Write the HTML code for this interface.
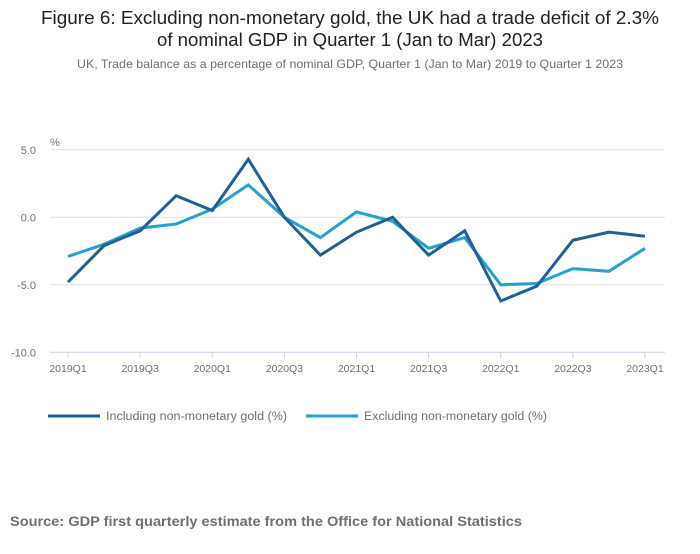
<!DOCTYPE html>
<html><head><meta charset="utf-8"><style>
body{margin:0;background:#fff;width:700px;height:549px;overflow:hidden;font-family:"Liberation Sans",sans-serif}
</style></head><body>
<svg width="700" height="549" font-family="Liberation Sans, sans-serif">
<text x="350" y="24" text-anchor="middle" font-size="18.5" fill="#222" textLength="618" lengthAdjust="spacingAndGlyphs">Figure 6: Excluding non-monetary gold, the UK had a trade deficit of 2.3%</text>
<text x="350" y="46" text-anchor="middle" font-size="18.5" fill="#222" textLength="386" lengthAdjust="spacingAndGlyphs">of nominal GDP in Quarter 1 (Jan to Mar) 2023</text>
<text x="350" y="68" text-anchor="middle" font-size="12" fill="#707070" textLength="546" lengthAdjust="spacingAndGlyphs">UK, Trade balance as a percentage of nominal GDP, Quarter 1 (Jan to Mar) 2019 to Quarter 1 2023</text>
<text x="50" y="146" font-size="11" fill="#707070">%</text>
<g id="grid"></g><g id="xax"></g><g id="lines"></g>
<g>
<line x1="48" y1="416" x2="100" y2="416" stroke="#206095" stroke-width="3"/>
<text x="106" y="420" font-size="11.5" fill="#707070" textLength="181" lengthAdjust="spacingAndGlyphs">Including non-monetary gold (%)</text>
<line x1="306" y1="416" x2="358" y2="416" stroke="#27a0cc" stroke-width="3"/>
<text x="364" y="420" font-size="11.5" fill="#707070" textLength="183" lengthAdjust="spacingAndGlyphs">Excluding non-monetary gold (%)</text>
</g>
<text x="10" y="526" font-size="13.5" font-weight="bold" fill="#707070" textLength="512" lengthAdjust="spacingAndGlyphs">Source: GDP first quarterly estimate from the Office for National Statistics</text>
</svg>
<script>
const categories=["2019Q1","2019Q2","2019Q3","2019Q4","2020Q1","2020Q2","2020Q3","2020Q4","2021Q1","2021Q2","2021Q3","2021Q4","2022Q1","2022Q2","2022Q3","2022Q4","2023Q1"];
const including=[-4.8,-2.1,-1.0,1.6,0.5,4.3,0.0,-2.8,-1.1,0.0,-2.8,-1.0,-6.2,-5.1,-1.7,-1.1,-1.4];
const excluding=[-2.9,-2.0,-0.8,-0.5,0.6,2.4,0.0,-1.5,0.4,-0.3,-2.3,-1.5,-5.0,-4.9,-3.8,-4.0,-2.3];
const yTicks=[5,0,-5,-10];
const yTickLabels=["5.0","0.0","-5.0","-10.0"];
const NS="http://www.w3.org/2000/svg";
const x=i=>68+i*(645-68)/(categories.length-1);
const y=v=>217.3-v*(352.3-217.3)/10;
function mk(t,a,p){const e=document.createElementNS(NS,t);for(const k in a)e.setAttribute(k,a[k]);p.appendChild(e);return e;}
const grid=document.getElementById('grid');
yTicks.forEach((v,i)=>{
 const l=mk('line',{x1:50,x2:665,y1:y(v),y2:y(v),stroke:v===-10?'#c5d3e8':'#e0e0e0','stroke-width':1},grid);
 
 
 const t=mk('text',{x:36,y:y(v)+4,'text-anchor':'end','font-size':11,fill:'#707070'},grid);
 t.textContent=yTickLabels[i];
 
 
});
const xax=document.getElementById('xax');
categories.forEach((c,i)=>{
 if(i%2)return;
 const tk=mk('line',{x1:x(i),x2:x(i),y1:352,y2:358,stroke:'#c5d3e8'},xax);
 
 
 const t=mk('text',{x:x(i),y:372,'text-anchor':'middle','font-size':10.5,fill:'#707070'},xax);
 t.textContent=c;
 
 
});
const lines=document.getElementById('lines');
[[excluding,'#27a0cc','line-excluding'],[including,'#206095','line-including']].forEach(([d,col,n])=>{
 const p=mk('polyline',{points:d.map((v,i)=>x(i)+','+y(v)).join(' '),fill:'none',stroke:col,'stroke-width':3,'stroke-linejoin':'miter'},lines);
 
 
});
</script>
</body></html>
